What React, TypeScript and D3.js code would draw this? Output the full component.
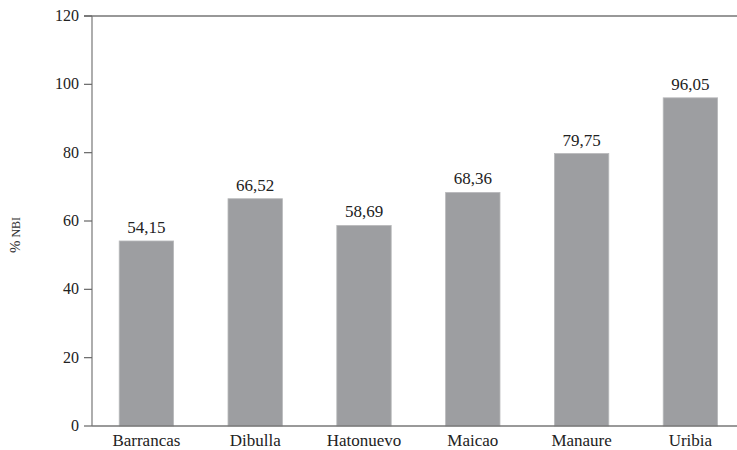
import React from "react";
import * as d3 from "d3";

const municipios = ["Barrancas", "Dibulla", "Hatonuevo", "Maicao", "Manaure", "Uribia"];
const nbi = [54.15, 66.52, 58.69, 68.36, 79.75, 96.05];
const yTicks = [0, 20, 40, 60, 80, 100, 120];

const W = 737;
const H = 450;
const margin = { left: 92, top: 16, bottom: 24 };
const plotRight = 744.8; // plot runs slightly past the visible canvas
const FONT = "Liberation Serif, DejaVu Serif, serif";

const fmt = (v: number) => v.toFixed(2).replace(".", ",");

export default function App() {
  const x = d3
    .scaleBand<string>()
    .domain(municipios)
    .range([margin.left, plotRight])
    .paddingInner(0.5)
    .paddingOuter(0.25);
  const y = d3.scaleLinear().domain([0, 120]).range([H - margin.bottom, margin.top]);
  const y0 = y(0);
  const txt = { fontFamily: FONT };

  return (
    <svg
      width={W}
      height={H}
      style={{ position: "absolute", left: 0, top: 0, background: "#fff", fontFamily: FONT }}
    >
      {/* bars */}
      {municipios.map((m, i) => (
        <g key={m}>
          <rect
            x={x(m)!}
            y={y(nbi[i])}
            width={x.bandwidth()}
            height={y0 - y(nbi[i])}
            fill="#9d9ea1"
            stroke="#b8b9bb"
            strokeWidth={0.8}
          />
          <text
            x={x(m)! + x.bandwidth() / 2}
            y={y(nbi[i]) - 8}
            textAnchor="middle"
            fontSize={17}
            fill="#222"
            style={txt}
          >
            {fmt(nbi[i])}
          </text>
          <text
            x={x(m)! + x.bandwidth() / 2}
            y={y0 + 20}
            textAnchor="middle"
            fontSize={17}
            fill="#222"
            style={txt}
          >
            {m}
          </text>
        </g>
      ))}

      {/* top frame line */}
      <line x1={84} x2={W} y1={y(120)} y2={y(120)} stroke="#333" strokeWidth={1.2} />

      {/* y axis */}
      <line x1={margin.left} x2={margin.left} y1={y(120)} y2={y0} stroke="#777" strokeWidth={1.2} />
      {yTicks.map((t) => (
        <g key={t}>
          <line x1={84} x2={margin.left} y1={y(t)} y2={y(t)} stroke="#666" strokeWidth={1.2} />
          <text x={79} y={y(t)} dy="0.32em" textAnchor="end" fontSize={16} fill="#222" style={txt}>
            {t}
          </text>
        </g>
      ))}

      {/* x axis */}
      <line x1={margin.left} x2={W} y1={y0} y2={y0} stroke="#777" strokeWidth={1.4} />

      {/* y axis title */}
      <text
        transform={`translate(20, ${235}) rotate(-90)`}
        textAnchor="middle"
        fontSize={15}
        fill="#333"
        style={txt}
      >
        %<tspan fontSize={12}> NBI</tspan>
      </text>
    </svg>
  );
}
